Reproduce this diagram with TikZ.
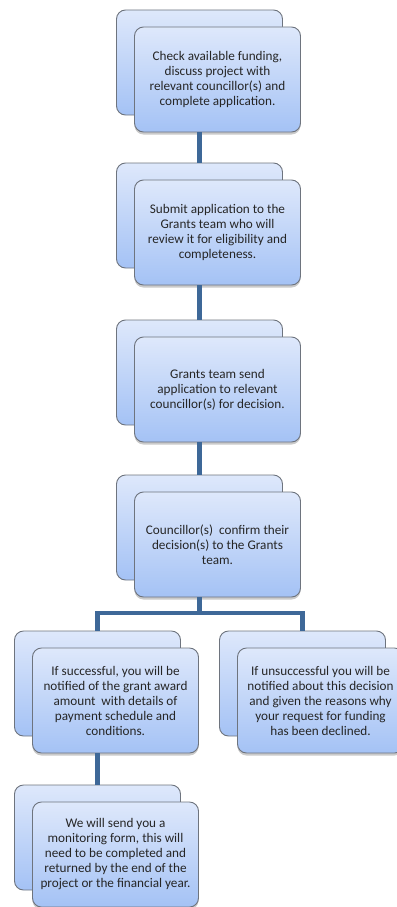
\documentclass[tikz,border=0pt]{standalone}
\usepackage{fontspec}
\setmainfont{Carlito}
\usepackage{xcolor}
\usetikzlibrary{shadows}
\definecolor{azulClaro}{RGB}{222, 232, 251}
\definecolor{azulMedio}{RGB}{164, 194, 245}
\definecolor{bordeGris}{RGB}{110, 116, 126}
\definecolor{azulLinea}{RGB}{62, 104, 152}

\begin{document}
\begin{tikzpicture}[x=1pt, y=-1pt,
  cajaAtras/.style={rectangle, draw=bordeGris, line width=0.9pt, rounded corners=9pt,
    top color=azulClaro, bottom color=azulMedio,
    minimum width=166pt, minimum height=105pt},
  cajaFrente/.style={cajaAtras, align=center, inner sep=2pt,
    font=\fontsize{13.2}{15}\selectfont, text=black!85,
    execute at begin node={\rule{0pt}{13.5pt}},
    drop shadow={shadow xshift=0pt, shadow yshift=-2.5pt, opacity=0.35, fill=black!60}},
  conector/.style={line width=4.5pt, azulLinea}
]
\useasboundingbox (0,0) rectangle (396,907);

\node[cajaAtras] (s1) at (199.5,62.5) {};
\node[cajaFrente] (p1) at (217.5,79.5) {Check available funding,\\ discuss project with\\ relevant councillor(s) and\\ complete application.};

\node[cajaAtras] (s2) at (199.5,215.5) {};
\node[cajaFrente] (p2) at (217.5,232.5) {Submit application to the\\ Grants team who will\\ review it for eligibility and\\ completeness.};

\node[cajaAtras] (s3) at (199.5,372.5) {};
\node[cajaFrente] (p3) at (217.5,389.5) {Grants team send\\ application to relevant\\ councillor(s) for decision.};

\node[cajaAtras] (s4) at (199.5,527.5) {};
\node[cajaFrente] (p4) at (217.5,544.5) {Councillor(s)\ \ confirm their\\ decision(s) to the Grants\\ team.};

\node[cajaAtras] (s5) at (97.5,683.5) {};
\node[cajaFrente] (p5) at (115.5,700.5) {If successful, you will be\\ notified of the grant award\\ amount\ \ with details of\\ payment schedule and\\ conditions.};

\node[cajaAtras] (s6) at (302.5,683.5) {};
\node[cajaFrente] (p6) at (320.5,700.5) {If unsuccessful you will be\\ notified about this decision\\ and given the reasons why\\ your request for funding\\ has been declined.};

\node[cajaAtras] (s7) at (97.5,837.5) {};
\node[cajaFrente] (p7) at (115.5,854.5) {We will send you a\\ monitoring form, this will\\ need to be completed and\\ returned by the end of the\\ project or the financial year.};

\coordinate (rama) at (199.5,613);

\draw[conector] (s2.north |- p1.south) -- (s2.north);
\draw[conector] (s3.north |- p2.south) -- (s3.north);
\draw[conector] (s4.north |- p3.south) -- (s4.north);
\draw[conector] (s4.south |- p4.south) -- (rama);
\draw[conector] (rama) -| (s5.north);
\draw[conector] (rama) -| (s6.north);
\draw[conector] (s7.north |- p5.south) -- (s7.north);
\end{tikzpicture}
\end{document}
